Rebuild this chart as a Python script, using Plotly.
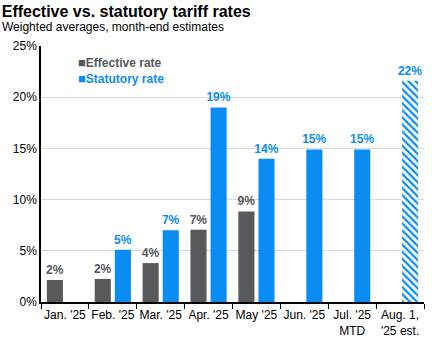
import plotly.graph_objects as go

categories = ["Jan. '25", "Feb. '25", "Mar. '25", "Apr. '25", "May '25", "Jun. '25", "Jul. '25<br>MTD", "Aug. 1,<br>'25 est."]
effective = [2.15, 2.25, 3.8, 7.05, 8.85, None, None, None]
statutory = [None, 5.1, 7.0, 19.0, 14.0, 14.9, 14.9, 21.6]
stat_patterns = ["", "", "", "", "", "", "", "\\"]
legend_labels = ["Effective rate", "Statutory rate"]

GRAY = "#58595b"
BLUE = "#0a8cf0"
FONT = "Liberation Sans, Arial, sans-serif"

fig = go.Figure()
fig.add_trace(go.Bar(
    x=categories, y=effective, name=legend_labels[0],
    marker=dict(color=GRAY, line=dict(width=0)),
    texttemplate="<b>%{y:.0f}%</b>", textposition="outside", constraintext="none",
    textfont=dict(color=GRAY, size=12, family=FONT), cliponaxis=False,
))
fig.add_trace(go.Bar(
    x=categories, y=statutory, name=legend_labels[1],
    marker=dict(color=BLUE, line=dict(width=0),
                pattern=dict(shape=stat_patterns, fgcolor=BLUE, bgcolor="white", size=5, solidity=0.45, fillmode="replace")),
    texttemplate="<b>%{y:.0f}%</b>", textposition="outside", constraintext="none",
    textfont=dict(color=BLUE, size=12, family=FONT), cliponaxis=False,
))

legend_ann = []
for i, (lab, col) in enumerate(zip(legend_labels, [GRAY, BLUE])):
    legend_ann.append(dict(
        text="<span style='font-size:13px'>■</span><b>" + lab + "</b>", xref="paper", yref="paper",
        x=(76 - 41) / 383, y=1 - (16 + 16 * i) / 256, xanchor="left", yanchor="middle", showarrow=False,
        font=dict(size=12, family=FONT, color=col)))

fig.update_layout(
    width=432, height=339,
    margin=dict(l=41, r=8, t=46, b=37),
    plot_bgcolor="white", paper_bgcolor="white",
    font=dict(family=FONT, size=12, color="black"),
    barmode="group", bargap=0.16, bargroupgap=0.2,
    showlegend=False,
    title=dict(text="<b>Effective vs. statutory tariff rates</b>", x=0.004, xanchor="left", xref="container",
               y=0.967, yanchor="middle", yref="container", font=dict(size=16, family=FONT, color="black")),
    annotations=[dict(text="Weighted averages, month-end estimates", xref="paper", yref="paper",
                      x=-41/383, y=1 + (46-27)/256, xanchor="left", yanchor="middle", showarrow=False,
                      font=dict(size=12, family=FONT, color="black"))] + legend_ann,
)
fig.update_xaxes(showline=True, linecolor="black", linewidth=1.5, ticks="outside", tickson="boundaries",
                 ticklen=5, tickcolor="black", tickfont=dict(size=12), showgrid=False, tickangle=0,
                 automargin=False, ticklabelstandoff=1)
fig.update_yaxes(range=[0, 25], dtick=5, ticksuffix="%", showline=True, linecolor="black", linewidth=1.5,
                 gridcolor="#d9d9d9", gridwidth=1, zeroline=False, ticks="", tickfont=dict(size=12),
                 automargin=False)

fig.write_html("out.html")
